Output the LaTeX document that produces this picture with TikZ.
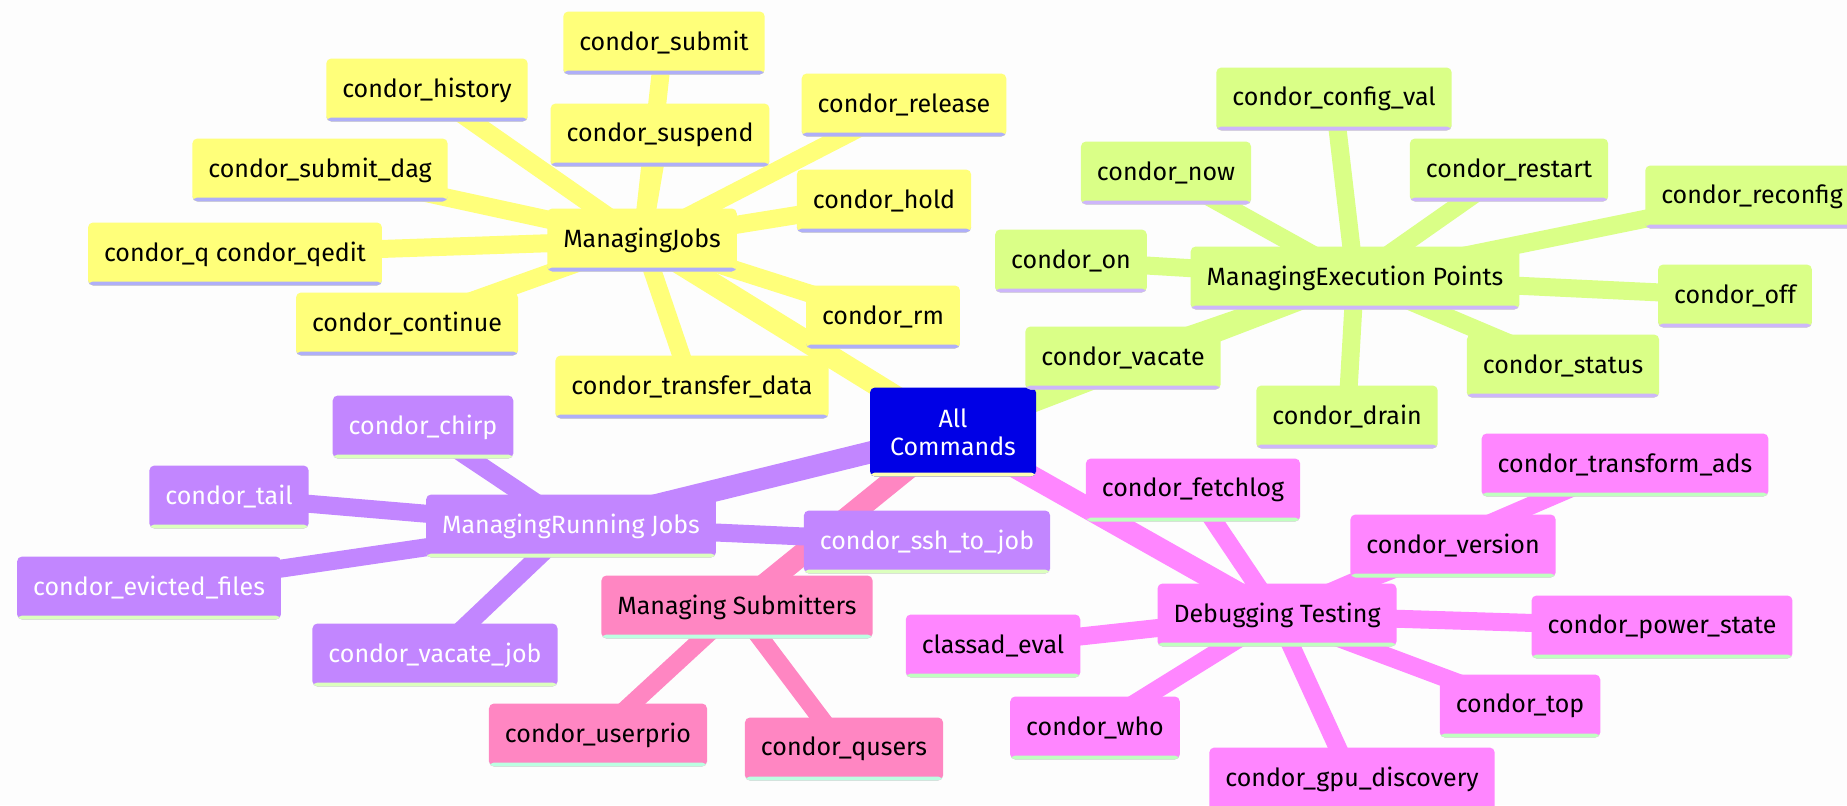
\documentclass[tikz,border=0pt]{standalone}
\usepackage{fontspec}
\usepackage{tikz}
\usetikzlibrary{backgrounds}

\newfontfamily\mindfont{Fira Sans}

\definecolor{paper}{HTML}{FDFDFD}
\definecolor{rootblue}{HTML}{0000E6}
\definecolor{rootline}{HTML}{FFFFB4}
\definecolor{jobyellow}{HTML}{FFFF7A}
\definecolor{jobline}{HTML}{AFAFF8}
\definecolor{execgreen}{HTML}{DAFF87}
\definecolor{execline}{HTML}{CDB6FA}
\definecolor{runpurple}{HTML}{C286FF}
\definecolor{runline}{HTML}{DCFFBE}
\definecolor{subpink}{HTML}{FF86C2}
\definecolor{subline}{HTML}{BCFFE2}
\definecolor{debugpink}{HTML}{FF86FF}
\definecolor{debugline}{HTML}{C0FFC0}

\begin{document}
\begin{tikzpicture}[x=0.5pt, y=-0.5pt,
	box/.style={rectangle, rounded corners=2.5pt, inner xsep=8pt, inner ysep=0pt, minimum height=31.5pt, text=black, font=\mindfont\fontsize{12.5}{14}\selectfont},
	strip/.style={path picture={\fill[#1] ([yshift=2pt]path picture bounding box.south west) rectangle (path picture bounding box.south east);}},
	rootbox/.style={box, fill=rootblue, text=white, align=center, minimum width=83pt, minimum height=44.5pt, strip=rootline},
	jobbox/.style={box, fill=jobyellow, strip=jobline},
	execbox/.style={box, fill=execgreen, strip=execline},
	runbox/.style={box, fill=runpurple, text=white, strip=runline},
	subbox/.style={box, fill=subpink, strip=subline},
	debugbox/.style={box, fill=debugpink, strip=debugline},
	trunk/.style={line width=11pt},
	twig/.style={line width=9pt}]
		\useasboundingbox (0, 0) rectangle (1847, 805);

		\node[rootbox] (root) at (953, 432) {All\\Commands};

		% managing jobs
		\node[jobbox] (jobs) at (642, 240) {ManagingJobs};
		\node[jobbox] (submit) at (664, 43) {condor\_submit};
		\node[jobbox] (history) at (427, 90) {condor\_history};
		\node[jobbox] (suspend) at (660, 135) {condor\_suspend};
		\node[jobbox] (release) at (904, 105) {condor\_release};
		\node[jobbox] (submitdag) at (320, 170) {condor\_submit\_dag};
		\node[jobbox] (hold) at (884, 201) {condor\_hold};
		\node[jobbox] (qedit) at (235, 254) {condor\_q condor\_qedit};
		\node[jobbox] (continue) at (407, 324) {condor\_continue};
		\node[jobbox] (rm) at (883, 317) {condor\_rm};
		\node[jobbox] (transfer) at (692, 387) {condor\_transfer\_data};

		% execution points
		\node[execbox] (exec) at (1355, 278) {ManagingExecution Points};
		\node[execbox] (configval) at (1334, 99) {condor\_config\_val};
		\node[execbox] (now) at (1166, 173) {condor\_now};
		\node[execbox] (restart) at (1509, 170) {condor\_restart};
		\node[execbox] (reconfig) at (1752, 197) {condor\_reconfig};
		\node[execbox] (on) at (1071, 261) {condor\_on};
		\node[execbox] (off) at (1735, 296) {condor\_off};
		\node[execbox] (vacate) at (1123, 358) {condor\_vacate};
		\node[execbox] (status) at (1563, 366) {condor\_status};
		\node[execbox] (drain) at (1347, 417) {condor\_drain};

		% running jobs
		\node[runbox] (running) at (571, 526) {ManagingRunning Jobs};
		\node[runbox] (chirp) at (423, 427) {condor\_chirp};
		\node[runbox] (tail) at (229, 497) {condor\_tail};
		\node[runbox] (evicted) at (149, 588) {condor\_evicted\_files};
		\node[runbox] (ssh) at (927, 542) {condor\_ssh\_to\_job};
		\node[runbox] (vacatejob) at (435, 655) {condor\_vacate\_job};

		% submitters
		\node[subbox] (submitters) at (737, 607) {Managing Submitters};
		\node[subbox] (userprio) at (598, 735) {condor\_userprio};
		\node[subbox] (qusers) at (844, 749) {condor\_qusers};

		% debugging
		\node[debugbox] (debug) at (1277, 615) {Debugging Testing};
		\node[debugbox] (fetchlog) at (1193, 490) {condor\_fetchlog};
		\node[debugbox] (transform) at (1625, 465) {condor\_transform\_ads};
		\node[debugbox] (version) at (1453, 546) {condor\_version};
		\node[debugbox] (classad) at (993, 646) {classad\_eval};
		\node[debugbox] (power) at (1662, 627) {condor\_power\_state};
		\node[debugbox] (top) at (1520, 706) {condor\_top};
		\node[debugbox] (who) at (1095, 728) {condor\_who};
		\node[debugbox] (gpu) at (1352, 779) {condor\_gpu\_discovery};

		\begin{scope}[on background layer]
			\fill[paper] (0, 0) rectangle (1847, 805);

			\path (root.center) edge[trunk, jobyellow] (jobs.center)
				(root.center) edge[trunk, execgreen] (exec.center)
				(root.center) edge[trunk, runpurple] (running.center)
				(root.center) edge[trunk, subpink] (submitters.center)
				(root.center) edge[trunk, debugpink] (debug.center);

			\path (jobs.center) edge[twig, jobyellow] (submit.center)
				(jobs.center) edge[twig, jobyellow] (history.center)
				(jobs.center) edge[twig, jobyellow] (suspend.center)
				(jobs.center) edge[twig, jobyellow] (release.center)
				(jobs.center) edge[twig, jobyellow] (submitdag.center)
				(jobs.center) edge[twig, jobyellow] (hold.center)
				(jobs.center) edge[twig, jobyellow] (qedit.center)
				(jobs.center) edge[twig, jobyellow] (continue.center)
				(jobs.center) edge[twig, jobyellow] (rm.center)
				(jobs.center) edge[twig, jobyellow] (transfer.center);

			\path (exec.center) edge[twig, execgreen] (configval.center)
				(exec.center) edge[twig, execgreen] (now.center)
				(exec.center) edge[twig, execgreen] (restart.center)
				(exec.center) edge[twig, execgreen] (reconfig.center)
				(exec.center) edge[twig, execgreen] (on.center)
				(exec.center) edge[twig, execgreen] (off.center)
				(exec.center) edge[twig, execgreen] (vacate.center)
				(exec.center) edge[twig, execgreen] (status.center)
				(exec.center) edge[twig, execgreen] (drain.center);

			\path (running.center) edge[twig, runpurple] (chirp.center)
				(running.center) edge[twig, runpurple] (tail.center)
				(running.center) edge[twig, runpurple] (evicted.center)
				(running.center) edge[twig, runpurple] (ssh.center)
				(running.center) edge[twig, runpurple] (vacatejob.center);

			\path (submitters.center) edge[twig, subpink] (userprio.center)
				(submitters.center) edge[twig, subpink] (qusers.center);

			\path (debug.center) edge[twig, debugpink] (fetchlog.center)
				(debug.center) edge[twig, debugpink] (transform.center)
				(debug.center) edge[twig, debugpink] (version.center)
				(debug.center) edge[twig, debugpink] (classad.center)
				(debug.center) edge[twig, debugpink] (power.center)
				(debug.center) edge[twig, debugpink] (top.center)
				(debug.center) edge[twig, debugpink] (who.center)
				(debug.center) edge[twig, debugpink] (gpu.center);
		\end{scope}
	\end{tikzpicture}
\end{document}
